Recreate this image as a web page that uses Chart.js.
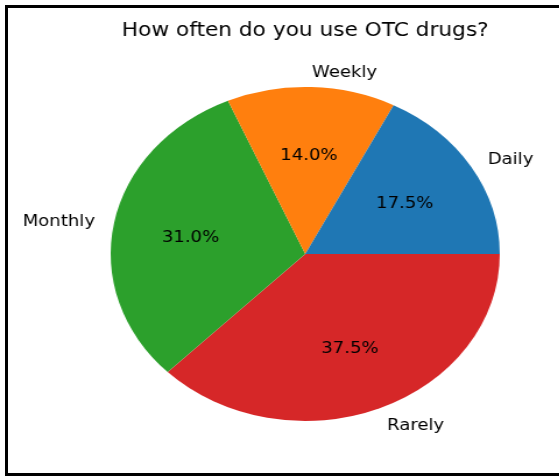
<!DOCTYPE html>
<html><head><meta charset="utf-8">
<script src="https://cdn.jsdelivr.net/npm/chart.js@4.4.0/dist/chart.umd.min.js"></script>
<style>
html,body{margin:0;padding:0;background:#fff;overflow:hidden;width:559px;height:476px;}
#frame{position:absolute;left:5px;top:5px;width:600px;height:465px;border-left:3px solid #000;border-top:3px solid #000;border-bottom:3px solid #000;pointer-events:none;}
#wrap{position:absolute;left:0;top:0;width:480px;height:476px;transform:scale(1.165,1);transform-origin:0 0;}
</style></head><body>
<div id="wrap"><canvas id="c" width="480" height="476"></canvas></div>
<div id="frame"></div>
<script>
const categories = ['Daily', 'Weekly', 'Monthly', 'Rarely'];
const shares = [17.5, 14.0, 31.0, 37.5];
const sliceColors = ['#1f77b4', '#ff7f0e', '#2ca02c', '#d62728'];
const chartTitle = 'How often do you use OTC drugs?';

// matplotlib draws counter-clockwise from 3 o'clock; Chart.js draws clockwise
const order = [3, 2, 1, 0];
const total = shares.reduce((a, b) => a + b, 0);

const mplLabels = {
  id: 'mplLabels',
  afterDatasetsDraw(chart) {
    const ctx = chart.ctx;
    const meta = chart.getDatasetMeta(0);
    ctx.save();
    ctx.fillStyle = '#000';
    ctx.textBaseline = 'alphabetic';
    ctx.font = '15.5px "DejaVu Sans"';
    let cx = 0;
    meta.data.forEach((arc, k) => {
      const p = arc.getProps(['x', 'y', 'startAngle', 'endAngle', 'outerRadius'], true);
      cx = p.x;
      const mid = (p.startAngle + p.endAngle) / 2;
      const c = Math.cos(mid), s = Math.sin(mid);
      const lx = p.x + 1.1 * p.outerRadius * c;
      const ly = p.y + 1.1 * p.outerRadius * s;
      ctx.textAlign = c < 0 ? 'right' : 'left';
      ctx.fillText(chart.data.labels[k], lx, ly + 6.3);
      const px = p.x + 0.6 * p.outerRadius * c;
      const py = p.y + 0.6 * p.outerRadius * s;
      ctx.textAlign = 'center';
      const v = chart.data.datasets[0].data[k];
      ctx.fillText((v / total * 100).toFixed(1) + '%', px, py + 6.3);
    });
    ctx.font = '18.6px "DejaVu Sans"';
    ctx.textAlign = 'center';
    ctx.fillText(chartTitle, cx, 36);
    ctx.restore();
  }
};

new Chart(document.getElementById('c'), {
  type: 'pie',
  data: {
    labels: order.map(i => categories[i]),
    datasets: [{
      data: order.map(i => shares[i]),
      backgroundColor: order.map(i => sliceColors[i]),
      borderWidth: 0,
      hoverOffset: 0
    }]
  },
  options: {
    responsive: false,
    animation: false,
    rotation: 90,
    layout: { padding: { left: 95, right: 51, top: 87, bottom: 55 } },
    plugins: {
      legend: { display: false },
      title: { display: false },
      tooltip: { enabled: false }
    }
  },
  plugins: [mplLabels]
});
</script>
</body></html>
